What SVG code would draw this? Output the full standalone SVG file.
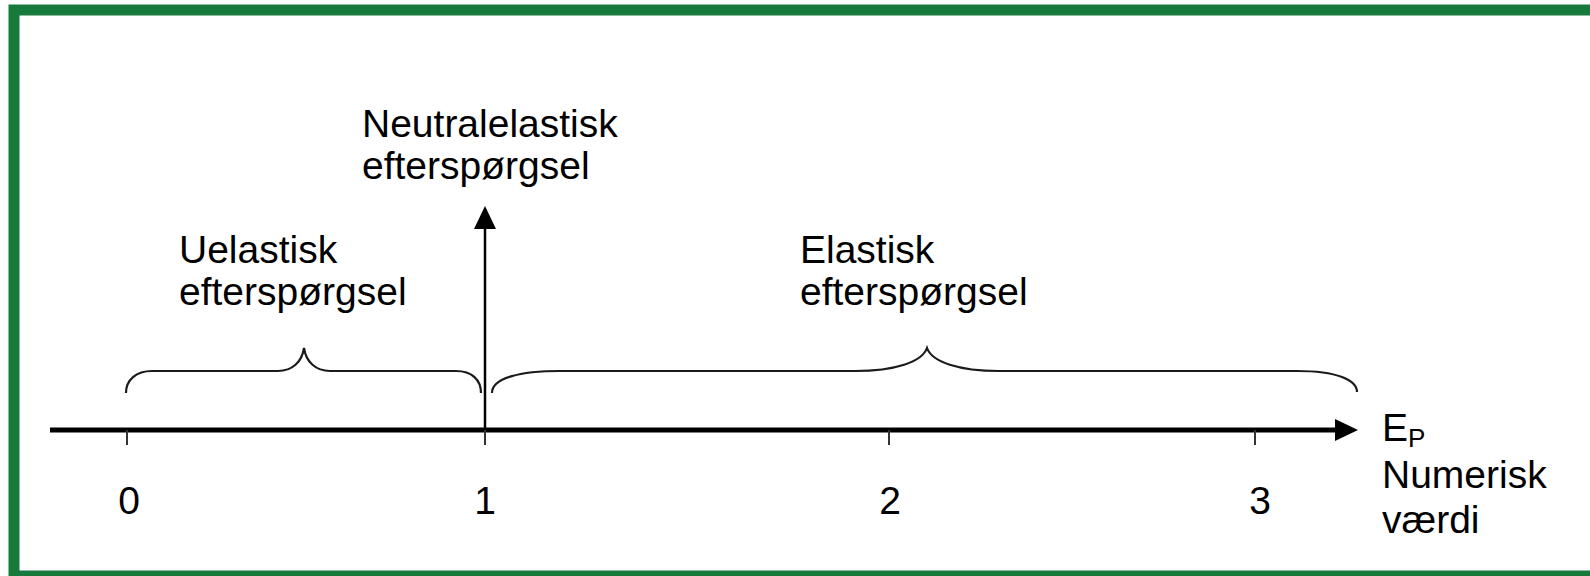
<svg xmlns="http://www.w3.org/2000/svg" width="1590" height="576" viewBox="0 0 1590 576">
<style>
.t{font-family:"Liberation Sans",Arial,sans-serif;font-size:39px;fill:#000}
.sub{font-family:"Liberation Sans",Arial,sans-serif;font-size:26px;fill:#000}
.brace{fill:none;stroke:#1a1a1a;stroke-width:2.2}
.tick{stroke:#333;stroke-width:2}
</style>
<rect x="14" y="10" width="1600" height="566" fill="#fff" stroke="#177a3d" stroke-width="11"/>
<g id="connectors">
<line x1="50" y1="430" x2="1337" y2="430" stroke="#000" stroke-width="5"/>
<polygon points="1335,419 1358,430 1335,441" fill="#000"/>
<line x1="485" y1="430" x2="485" y2="226" stroke="#000" stroke-width="2.5"/>
<polygon points="474,229 485,206 496,229" fill="#000"/>
</g>
<g id="ticks">
<line class="tick" x1="127" y1="430" x2="127" y2="445"/>
<line class="tick" x1="485" y1="430" x2="485" y2="445"/>
<line class="tick" x1="889" y1="430" x2="889" y2="445"/>
<line class="tick" x1="1255" y1="430" x2="1255" y2="445"/>
</g>
<g id="brace-inelastic">
<path class="brace" d="M126,393 C126,380 136,371 152,371 L278,371 C292,371 302,362 304,348 C306,362 316,371 330,371 L456,371 C472,371 481,380 481,393"/>
</g>
<g id="brace-elastic">
<path class="brace" d="M492,393 C492,378 520,371 560,371 L855,371 C895,371 922,362 927,348 C932,362 959,371 999,371 L1297,371 C1337,371 1357,380 1357,392"/>
</g>
<g id="label-neutral">
<text class="t" x="362" y="137">Neutralelastisk</text>
<text class="t" x="362" y="179">efterspørgsel</text>
</g>
<g id="label-inelastic">
<text class="t" x="179" y="263">Uelastisk</text>
<text class="t" x="179" y="305">efterspørgsel</text>
</g>
<g id="label-elastic">
<text class="t" x="800" y="263">Elastisk</text>
<text class="t" x="800" y="305">efterspørgsel</text>
</g>
<g id="axis-labels">
<text class="t" x="129" y="514" text-anchor="middle">0</text>
<text class="t" x="485" y="514" text-anchor="middle">1</text>
<text class="t" x="890" y="514" text-anchor="middle">2</text>
<text class="t" x="1260" y="514" text-anchor="middle">3</text>
<text class="t" x="1382" y="441">E<tspan class="sub" dy="6">P</tspan></text>
<text class="t" x="1382" y="488">Numerisk</text>
<text class="t" x="1382" y="533">værdi</text>
</g>
</svg>
